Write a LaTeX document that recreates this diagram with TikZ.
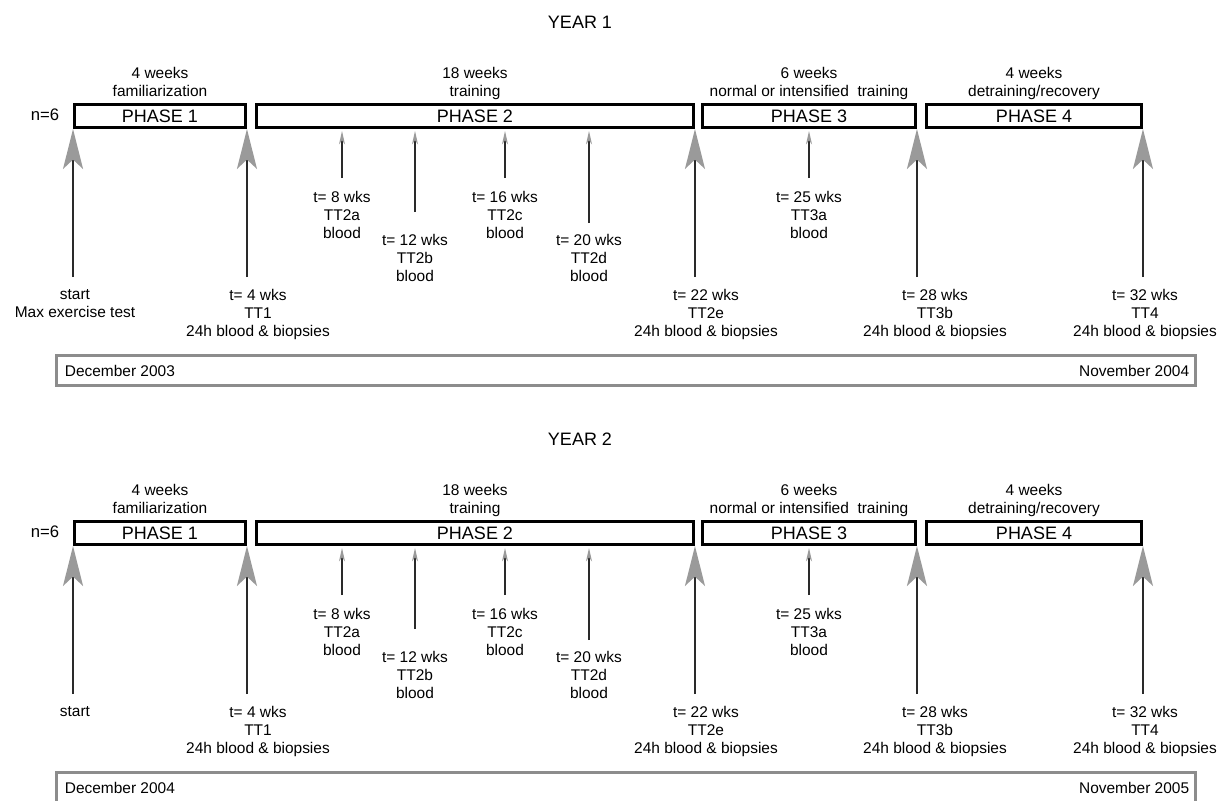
\documentclass[tikz,border=0pt]{standalone}
\usepackage{fontspec}
\setmainfont{Liberation Sans}
\usetikzlibrary{arrows.meta,positioning}
\definecolor{headgray}{HTML}{9A9A9A}
\definecolor{bargray}{HTML}{8C8C8C}
\definecolor{shaftgray}{HTML}{2A2A2A}
\tikzset{
  phasebox/.style={draw,line width=2.2pt,minimum height=17.25pt,inner sep=0pt,
    font=\fontsize{13.5}{16}\selectfont},
  lbl/.style={align=center,inner sep=0pt,font=\fontsize{11.6}{13.5}\selectfont},
  nlbl/.style={inner sep=0pt,font=\fontsize{12.5}{15}\selectfont},
  yearlbl/.style={inner sep=0pt,font=\fontsize{13.5}{16}\selectfont},
  datebar/.style={draw=bargray,line width=2.4pt,minimum width=854.7pt,
    minimum height=22.4pt,inner sep=0pt},
  bigarrow/.style={-{Stealth[length=30pt,width=15pt,inset=7pt,color=headgray]},
    line width=1.4pt,draw=shaftgray},
  smallarrow/.style={-{Stealth[length=10pt,width=4.5pt,inset=3pt,color=headgray]},
    line width=1pt,draw=shaftgray}
}
\begin{document}
\begin{tikzpicture}[x=0.75pt,y=-0.75pt]
  \useasboundingbox (0,0) rectangle (1220,800);
  \foreach \yr/\dy/\startlbl/\dfrom/\dto in {1/0/{start\\Max exercise test}/December 2003/November 2004,
      2/417/start/December 2004/November 2005} {
  \begin{scope}[shift={(0,\dy)}]
    % Title
    \node[yearlbl] (yr\yr) at (580,22) {YEAR \yr};
    % Phases
    \node[phasebox,minimum width=128.25pt] (ph\yr1) at (160,116) {PHASE 1};
    \node[phasebox,minimum width=327.75pt] (ph\yr2) at (475,116) {PHASE 2};
    \node[phasebox,minimum width=159.75pt] (ph\yr3) at (809,116) {PHASE 3};
    \node[phasebox,minimum width=161.25pt] (ph\yr4) at (1034,116) {PHASE 4};
    \node[nlbl] (n\yr) at (45,115) {n=6};
    % Durations
    \node[lbl,anchor=north] (d\yr1) at (ph\yr1.north |- 0,67) {4 weeks\\familiarization};
    \node[lbl,anchor=north] (d\yr2) at (ph\yr2.north |- 0,67) {18 weeks\\training};
    \node[lbl,anchor=north] (d\yr3) at (ph\yr3.north |- 0,67) {6 weeks\\normal or intensified~ training};
    \node[lbl,anchor=north] (d\yr4) at (ph\yr4.north |- 0,67) {4 weeks\\detraining/recovery};
    % Test days with biopsies
    \node[lbl,anchor=north] (t\yr0) at (75,289) {\startlbl};
    \node[lbl,anchor=north] (t\yr1) at (258,289) {t= 4 wks\\TT1\\24h blood \& biopsies};
    \node[lbl,anchor=north] (t\yr2e) at (706,289) {t= 22 wks\\TT2e\\24h blood \& biopsies};
    \node[lbl,anchor=north] (t\yr3b) at (935,289) {t= 28 wks\\TT3b\\24h blood \& biopsies};
    \node[lbl,anchor=north] (t\yr4) at (1145,289) {t= 32 wks\\TT4\\24h blood \& biopsies};
    \draw[bigarrow] (ph\yr1.south west |- 0,277) -- (ph\yr1.south west);
    \draw[bigarrow] (ph\yr1.south east |- 0,277) -- (ph\yr1.south east);
    \draw[bigarrow] (ph\yr2.south east |- 0,277) -- (ph\yr2.south east);
    \draw[bigarrow] (ph\yr3.south east |- 0,277) -- (ph\yr3.south east);
    \draw[bigarrow] (ph\yr4.south east |- 0,277) -- (ph\yr4.south east);
    % Blood only
    \node[lbl,anchor=north] (t\yr2a) at (342,191) {t= 8 wks\\TT2a\\blood};
    \node[lbl,anchor=north] (t\yr2b) at (415,234) {t= 12 wks\\TT2b\\blood};
    \node[lbl,anchor=north] (t\yr2c) at (505,191) {t= 16 wks\\TT2c\\blood};
    \node[lbl,anchor=north] (t\yr2d) at (589,234) {t= 20 wks\\TT2d\\blood};
    \node[lbl,anchor=north] (t\yr3a) at (809,191) {t= 25 wks\\TT3a\\blood};
    \draw[smallarrow] (t\yr2a.north |- 0,178) -- (t\yr2a.north |- 0,131);
    \draw[smallarrow] (t\yr2b.north |- 0,212) -- (t\yr2b.north |- 0,131);
    \draw[smallarrow] (t\yr2c.north |- 0,178) -- (t\yr2c.north |- 0,131);
    \draw[smallarrow] (t\yr2d.north |- 0,223) -- (t\yr2d.north |- 0,131);
    \draw[smallarrow] (t\yr3a.north |- 0,178) -- (t\yr3a.north |- 0,131);
    % Calendar
    \node[datebar] (bar\yr) at (626,370.5) {};
    \node[lbl,anchor=west] (from\yr) at ([xshift=7.5pt]bar\yr.west) {\dfrom};
    \node[lbl,anchor=east] (to\yr) at ([xshift=-6pt]bar\yr.east) {\dto};
  \end{scope}
  }
\end{tikzpicture}
\end{document}
